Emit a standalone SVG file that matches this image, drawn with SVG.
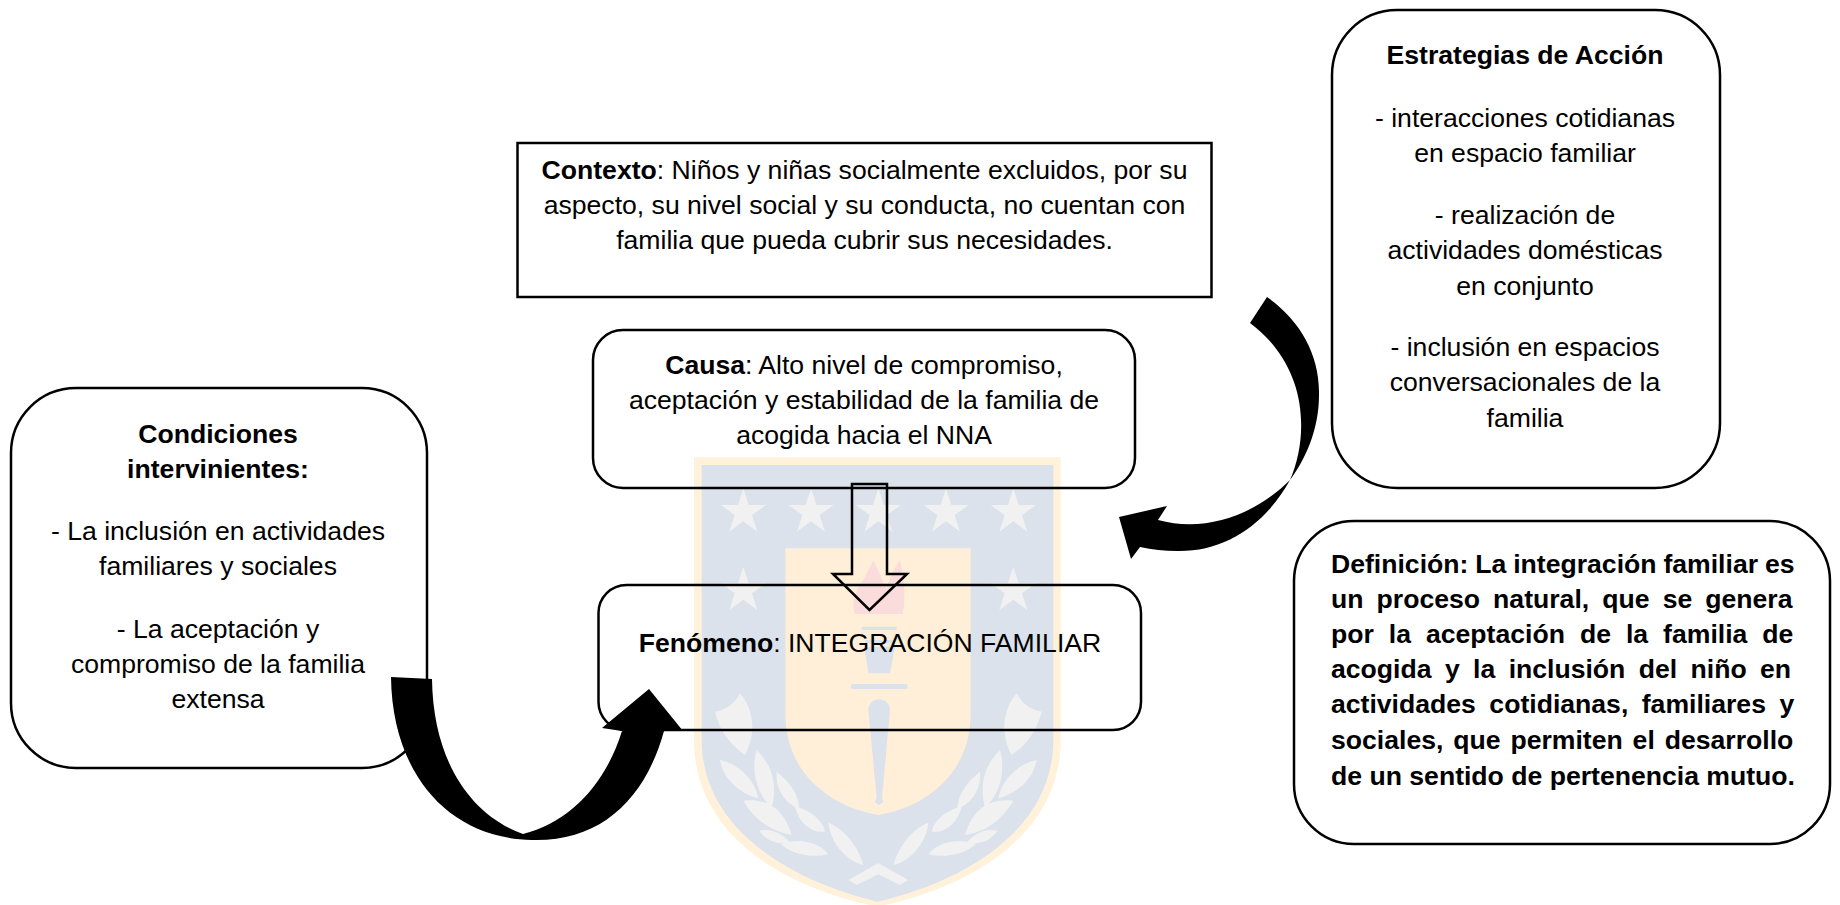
<svg xmlns="http://www.w3.org/2000/svg" width="1840" height="905" viewBox="0 0 1840 905">
<style>
text{font-family:"Liberation Sans",Arial,sans-serif;font-size:26.6px;fill:#000}
.c{text-anchor:middle}
.b{font-weight:700}
.box{fill:none;stroke:#000;stroke-width:2.5}
.arrow{fill:#000;stroke:none}
.j{font-weight:700;text-anchor:start}
</style>
<defs>
<polygon id="star" points="0,-72 16,-22 68,-22 26,8 42,58 0,27 -42,58 -26,8 -68,-22 -16,-22"/>
<g id="leaves">
<path d="M105,815C130,810 160,800 180,760C215,800 235,870 195,945C160,920 120,880 105,815Z"/>
<path d="M120,960C175,970 225,1020 235,1075C180,1060 130,1020 120,960Z"/>
<path d="M230,930C285,985 290,1045 275,1105C235,1065 210,1000 230,930Z"/>
<path d="M290,995C335,1030 355,1065 358,1105C320,1095 285,1050 290,995Z"/>
<path d="M190,1082C255,1075 310,1100 335,1185C270,1175 220,1135 190,1082Z"/>
<path d="M345,1100C395,1110 430,1145 435,1175C395,1180 358,1150 345,1100Z"/>
<path d="M238,1172C270,1165 305,1178 330,1208C295,1215 258,1203 238,1172Z"/>
<path d="M302,1212C360,1192 415,1208 445,1242C400,1255 340,1245 302,1212Z"/>
<path d="M445,1148C495,1168 535,1220 550,1275C500,1262 452,1212 445,1148Z"/>
<path d="M505,1320L595,1270L625,1288L530,1335Z"/>
</g>
</defs>
<rect width="1840" height="905" fill="#fff"/>
<g id="watermark" transform="translate(680 440) scale(.33333)">
<path fill="#fff1da" d="M42,52H1142V900C1142,1180 880,1340 592,1400C300,1340 42,1180 42,900Z"/>
<path fill="#dbe2ec" d="M65,75H1120V900C1120,1160 870,1320 592,1385C320,1320 65,1160 65,900Z"/>
<g fill="#f1f1f1">
<use href="#star" x="190" y="217"/><use href="#star" x="393" y="217"/><use href="#star" x="595" y="217"/><use href="#star" x="798" y="217"/><use href="#star" x="1000" y="217"/><use href="#star" x="190" y="452"/><use href="#star" x="1000" y="452"/>
<use href="#leaves"/><use href="#leaves" transform="translate(1190 0) scale(-1 1)"/>
</g>
<path fill="#ffefd8" d="M316,325H872V820C872,1000 740,1100 595,1125C450,1100 316,1000 316,820Z"/>
<path fill="#fbdcdc" d="M525,522C510,480 535,440 550,420C560,400 575,375 580,360C600,400 610,430 620,450C625,420 640,390 660,360C670,400 680,470 668,522Z"/>
<g fill="#dbe2ec">
<rect x="545" y="560" width="105" height="10"/>
<rect x="555" y="600" width="85" height="10"/>
<path d="M553,620H645L630,700H565Z"/>
<rect x="512" y="732" width="171" height="15" rx="7"/>
<path d="M565,810A32,32 0 0 1 630,810L606,1075L610,1085L597,1095L584,1085L590,1075Z"/>
</g>
</g>
<g id="contexto">
<rect class="box" x="517.5" y="143" width="694" height="154"/>
<text class="c" x="864.5" y="179"><tspan class="b">Contexto</tspan>: Niños y niñas socialmente excluidos, por su</text>
<text class="c" x="864.5" y="214">aspecto, su nivel social y su conducta, no cuentan con</text>
<text class="c" x="864.5" y="249">familia que pueda cubrir sus necesidades.</text>
</g>
<g id="causa">
<rect class="box" x="593" y="330" width="542" height="158" rx="30"/>
<text class="c" x="864" y="374"><tspan class="b">Causa</tspan>: Alto nivel de compromiso,</text>
<text class="c" x="864" y="409">aceptación y estabilidad de la familia de</text>
<text class="c" x="864" y="444">acogida hacia el NNA</text>
</g>
<g id="fenomeno">
<rect class="box" x="598.5" y="585" width="542.5" height="145" rx="28"/>
<text class="c" x="870" y="652"><tspan class="b">Fenómeno</tspan>: INTEGRACIÓN FAMILIAR</text>
</g>
<g id="condiciones">
<rect class="box" x="11" y="388" width="416" height="380" rx="65"/>
<text class="c b" x="218" y="443">Condiciones</text>
<text class="c b" x="218" y="478">intervinientes:</text>
<text class="c" x="218" y="540">- La inclusión en actividades</text>
<text class="c" x="218" y="575">familiares y sociales</text>
<text class="c" x="218" y="638">- La aceptación y</text>
<text class="c" x="218" y="673">compromiso de la familia</text>
<text class="c" x="218" y="708">extensa</text>
</g>
<g id="estrategias">
<rect class="box" x="1332" y="10" width="388" height="478" rx="65"/>
<text class="c b" x="1525" y="64">Estrategias de Acción</text>
<text class="c" x="1525" y="127">- interacciones cotidianas</text>
<text class="c" x="1525" y="162">en espacio familiar</text>
<text class="c" x="1525" y="224">- realización de</text>
<text class="c" x="1525" y="259">actividades domésticas</text>
<text class="c" x="1525" y="295">en conjunto</text>
<text class="c" x="1525" y="356">- inclusión en espacios</text>
<text class="c" x="1525" y="391">conversacionales de la</text>
<text class="c" x="1525" y="427">familia</text>
</g>
<g id="definicion">
<rect class="box" x="1294" y="521" width="536" height="323" rx="60"/>
<text class="j" x="1331" y="573" word-spacing="-.5">Definición: La integración familiar es</text>
<text class="j" x="1331" y="608" word-spacing="5.7">un proceso natural, que se genera</text>
<text class="j" x="1331" y="643" word-spacing="7.6">por la aceptación de la familia de</text>
<text class="j" x="1331" y="678" word-spacing="6">acogida y la inclusión del niño en</text>
<text class="j" x="1331" y="713" word-spacing="6.1">actividades cotidianas, familiares y</text>
<text class="j" x="1331" y="749" word-spacing="2.5">sociales, que permiten el desarrollo</text>
<text class="j" x="1331" y="785">de un sentido de pertenencia mutuo.</text>
</g>
<g id="connectors">
<path fill="none" stroke="#000" stroke-width="2.5" stroke-linejoin="miter" d="M852,484H887V574H907L869.5,610L833,574H852Z"/>
<path class="arrow" d="M391,677C392,770 445,838 532,840C600,842 645,800 664,731L683,731L649,689L602,728L622,731C605,785 570,822 523,834C470,815 433,760 432,679Z"/>
<path class="arrow" d="M1267,297C1300,320 1320,355 1319,395C1319,430 1305,460 1290,480C1265,525 1225,552 1177,551Q1158,551 1140,547L1131,559L1119,517L1167,506L1158,520C1205,533 1255,515 1290,480C1298,462 1302,440 1301,420C1300,380 1280,345 1250,323Z"/>
</g>
</svg>
